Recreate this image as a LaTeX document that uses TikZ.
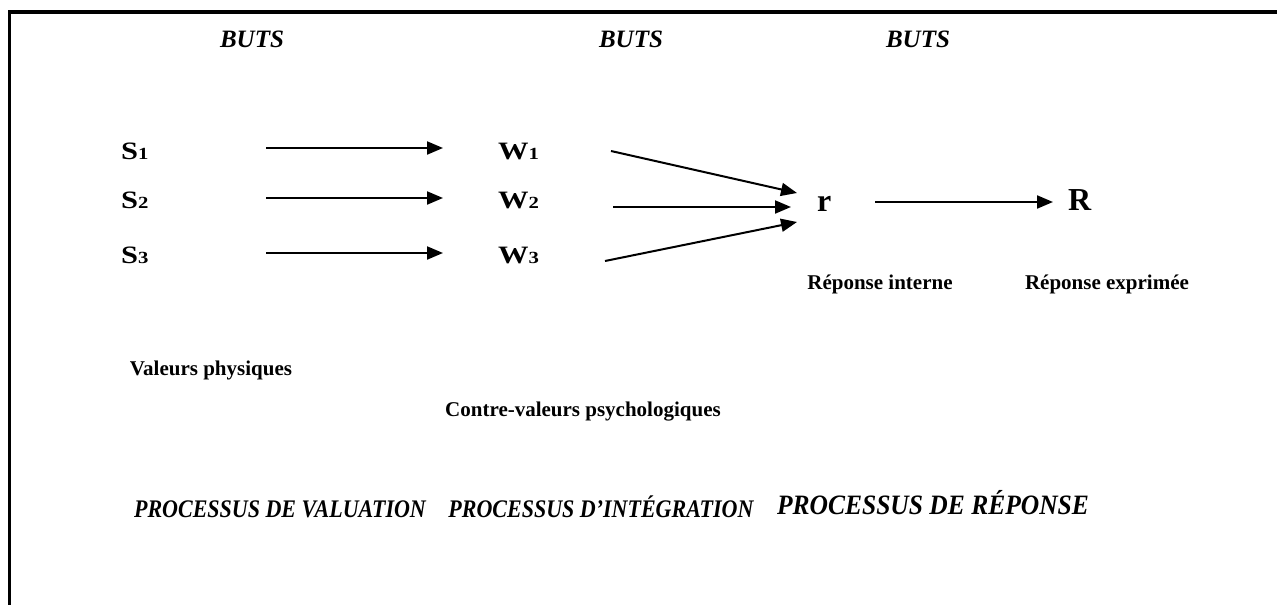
\documentclass[tikz,border=0pt]{standalone}
\usepackage{fontspec}
\setmainfont{Liberation Serif}
\usetikzlibrary{arrows.meta}
\newcommand{\vsub}[1]{{\fontsize{17}{19}\selectfont #1}}
\newcommand{\widen}[1]{\scalebox{1.22}[1]{#1}}
\begin{document}
\begin{tikzpicture}[x=1pt,y=-1pt,
  txt/.style={inner sep=0pt, anchor=base},
  lbl/.style={txt, font=\fontsize{21}{24}\selectfont\bfseries},
  goal/.style={txt, font=\fontsize{25}{30}\selectfont\bfseries\itshape},
  var/.style={inner sep=0pt, anchor=base west, font=\fontsize{25}{30}\selectfont\bfseries},
  big/.style={inner sep=0pt, anchor=base west, font=\fontsize{32}{36}\selectfont\bfseries},
  proc/.style={txt, font=\bfseries\itshape},
  conn/.style={line width=2pt, -{Triangle[length=16pt,width=13pt]}},
]
\useasboundingbox (0,0) rectangle (1277,605);
\draw[line width=3.5pt, line join=miter] (9.5,605) -- (9.5,12) -- (1277,12);

% goals
\node[goal] (b1) at (252,47) {BUTS};
\node[goal] (b2) at (631,47) {BUTS};
\node[goal] (b3) at (918,47) {BUTS};

% stimuli
\node[var] (s1) at (121,159) {\widen{S\vsub{1}}};
\node[var] (s2) at (121,208) {\widen{S\vsub{2}}};
\node[var] (s3) at (121,263) {\widen{S\vsub{3}}};

% values
\node[var] (w1) at (498,159) {\widen{W\vsub{1}}};
\node[var] (w2) at (498,208) {\widen{W\vsub{2}}};
\node[var] (w3) at (498,263) {\widen{W\vsub{3}}};

\node[big] (r) at (817,211) {r};
\node[big] (R) at (1068,210) {R};

% arrow end points
\coordinate (a1s) at (266,148); \coordinate (a1e) at (443,148);
\coordinate (a2s) at (266,198); \coordinate (a2e) at (443,198);
\coordinate (a3s) at (266,253); \coordinate (a3e) at (443,253);
\coordinate (c1s) at (611,151); \coordinate (c1e) at (797,193);
\coordinate (c2s) at (613,207); \coordinate (c2e) at (791,207);
\coordinate (c3s) at (605,261); \coordinate (c3e) at (797,222);
\coordinate (ds) at (875,202);  \coordinate (de) at (1053,202);

\draw[conn] (a1s) -- (a1e);
\draw[conn] (a2s) -- (a2e);
\draw[conn] (a3s) -- (a3e);
\draw[conn] (c1s) -- (c1e);
\draw[conn] (c2s) -- (c2e);
\draw[conn] (c3s) -- (c3e);
\draw[conn] (ds) -- (de);

% labels
\node[lbl] (ri) at (880,289) {Réponse interne};
\node[lbl] (re) at (1107,289) {Réponse exprimée};
\node[lbl] (vp) at (211,375) {Valeurs physiques};
\node[lbl] (cv) at (583,416) {Contre-valeurs psychologiques};

% processes
\node[proc] (p1) at (280,517) {\fontsize{22}{26}\selectfont\scalebox{1}[1.15]{PROCESSUS DE VALUATION}};
\node[proc] (p2) at (601,517) {\fontsize{22}{26}\selectfont\scalebox{1}[1.15]{PROCESSUS D’INTÉGRATION}};
\node[proc] (p3) at (933,514) {\fontsize{25.5}{30}\selectfont\scalebox{1}[1.1]{PROCESSUS DE RÉPONSE}};
\end{tikzpicture}
\end{document}
